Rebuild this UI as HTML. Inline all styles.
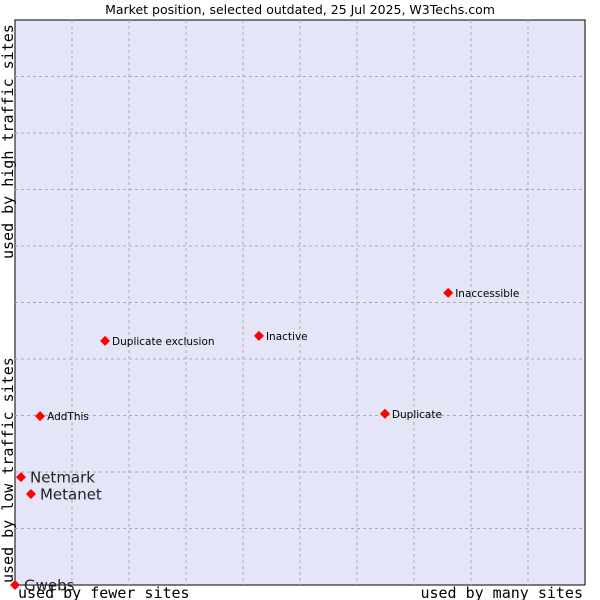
<!DOCTYPE html>
<html><head><meta charset="utf-8"><style>
body{margin:0;background:#fff;}
svg{display:block;}
</style></head><body>
<svg id="chart" width="600" height="600" xmlns="http://www.w3.org/2000/svg">
<text x="300" y="14" text-anchor="middle" font-family="DejaVu Sans, Liberation Sans, sans-serif" font-size="12.5" fill="#000">Market position, selected outdated, 25 Jul 2025, W3Techs.com</text>
<rect x="15" y="20" width="570" height="565" fill="#e4e6f8" stroke="#000" stroke-width="1"/>
<g id="grid"></g>
<g id="marks"></g>
<text x="18" y="598" font-family="DejaVu Sans Mono, Liberation Mono, monospace" font-size="15" fill="#000">used by fewer sites</text>
<text x="583" y="598" text-anchor="end" font-family="DejaVu Sans Mono, Liberation Mono, monospace" font-size="15" fill="#000">used by many sites</text>
<text transform="translate(13,583) rotate(-90)" font-family="DejaVu Sans Mono, Liberation Mono, monospace" font-size="15" fill="#000">used by low traffic sites</text>
<text transform="translate(13,259) rotate(-90)" font-family="DejaVu Sans Mono, Liberation Mono, monospace" font-size="15" fill="#000">used by high traffic sites</text>
</svg>
<script>
const names = ["Gwebs","Netmark","Metanet","AddThis","Duplicate exclusion","Inactive","Duplicate","Inaccessible"];
const xValues = [0,1.05,2.8,4.4,15.8,42.8,64.9,76];
const yValues = [0,19.1,16.1,29.9,43.2,44.1,30.3,51.7];
const bigLabel = [true,true,true,false,false,false,false,false];
const gridTicks = [10,20,30,40,50,60,70,80,90];
const L=15,R=585,T=20,B=585;
const sx=v=>L+v/100*(R-L);
const sy=v=>B-v/100*(B-T);
const NS="http://www.w3.org/2000/svg";
const grid=document.getElementById('grid');
gridTicks.forEach(t=>{
  const v=document.createElementNS(NS,'line');
  
  
  v.setAttribute('x1',sx(t));v.setAttribute('x2',sx(t));v.setAttribute('y1',T);v.setAttribute('y2',B);
  v.setAttribute('stroke','#aaa');v.setAttribute('stroke-dasharray','3,3');
  grid.appendChild(v);
  const h=document.createElementNS(NS,'line');
  
  
  h.setAttribute('y1',sy(t));h.setAttribute('y2',sy(t));h.setAttribute('x1',L);h.setAttribute('x2',R);
  h.setAttribute('stroke','#aaa');h.setAttribute('stroke-dasharray','3,3');
  grid.appendChild(h);
});
const marks=document.getElementById('marks');
names.forEach((n,i)=>{
  const x=sx(xValues[i]),y=sy(yValues[i]);
  const p=document.createElementNS(NS,'polygon');
  
  
  p.setAttribute('points',`${x},${y-5} ${x+5},${y} ${x},${y+5} ${x-5},${y}`);
  p.setAttribute('fill','#f00');
  marks.appendChild(p);
  const t=document.createElementNS(NS,'text');
  
  
  t.setAttribute('x',x+(bigLabel[i]?9:7));
  t.setAttribute('y',y+(bigLabel[i]?5.5:4));
  t.setAttribute('font-family','DejaVu Sans, Liberation Sans, sans-serif');
  t.setAttribute('font-size',bigLabel[i]?'15':'10.5');
  t.setAttribute('fill',bigLabel[i]?'#222':'#000');
  t.textContent=n;
  marks.appendChild(t);
});
</script>
</body></html>
